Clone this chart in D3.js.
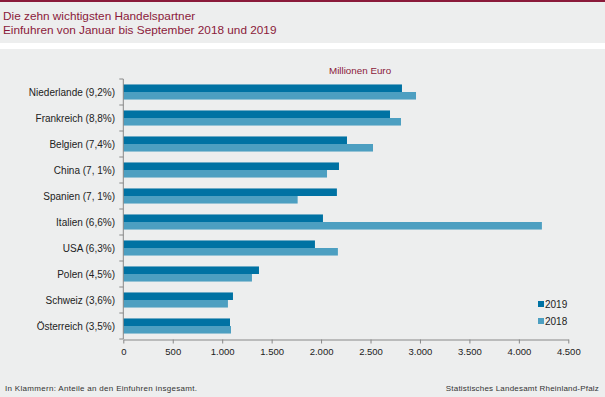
<!DOCTYPE html>
<html>
<head>
<meta charset="utf-8">
<script src="https://cdn.jsdelivr.net/npm/d3@7"></script>
<style>
body { margin: 0; background: #fff; }
svg text { font-family: "Liberation Sans", Arial, sans-serif; }
</style>
</head>
<body>
<div id="chart"></div>
<script>
var partners = ["Niederlande (9,2%)", "Frankreich (8,8%)", "Belgien (7,4%)", "China (7, 1%)", "Spanien (7, 1%)",
    "Italien (6,6%)", "USA (6,3%)", "Polen (4,5%)", "Schweiz (3,6%)", "Österreich (3,5%)"];
var values2019 = [2818, 2697, 2262, 2181, 2160, 2019, 1938, 1372, 1109, 1079];
var values2018 = [2960, 2808, 2525, 2060, 1763, 4233, 2170, 1301, 1058, 1089];
var years = ["2019", "2018"];
var xTicks = [0, 500, 1000, 1500, 2000, 2500, 3000, 3500, 4000, 4500];

var width = 605;
var height = 397;
var colors = { "2019": "#0072a3", "2018": "#4d9fc1" };
var titleColor = "#8b1a3a";

var svg = d3.select("#chart").append("svg").attr("width", width).attr("height", height);

// header and panel
svg.append("rect").attr("x", 0).attr("y", 0).attr("width", width).attr("height", 43).attr("fill", "#edeeee");
svg.append("rect").attr("x", 0).attr("y", 0).attr("width", width).attr("height", 2).attr("fill", titleColor);
svg.append("rect").attr("x", 0).attr("y", 49).attr("width", width).attr("height", height - 49).attr("fill", "#edeeee");

svg.append("text").attr("x", 3).attr("y", 20).attr("fill", titleColor).attr("font-size", 11.8)
    .text("Die zehn wichtigsten Handelspartner");
svg.append("text").attr("x", 3).attr("y", 34).attr("fill", titleColor).attr("font-size", 11.8)
    .text("Einfuhren von Januar  bis September 2018 und 2019");

var xScale = d3.scaleLinear().domain([0, 4500]).range([123.3, 568.3]);
var yScale = d3.scaleBand().domain(partners).range([79, 339]).paddingInner(0.42).paddingOuter(0.21);
var sub = d3.scaleBand().domain(years).range([0, yScale.bandwidth()]);

// bars
var data = partners.map(function (p, i) {
    return { name: p, "2019": values2019[i], "2018": values2018[i] };
});
var groups = svg.selectAll("g.partner").data(data).enter().append("g")
    .attr("class", "partner")
    .attr("transform", function (d) { return "translate(0," + yScale(d.name) + ")"; });
groups.selectAll("rect").data(function (d) {
        return years.map(function (y) { return { year: y, value: d[y] }; });
    }).enter().append("rect")
    .attr("x", xScale(0))
    .attr("y", function (d) { return sub(d.year); })
    .attr("height", sub.bandwidth())
    .attr("width", function (d) { return xScale(d.value) - xScale(0); })
    .attr("fill", function (d) { return colors[d.year]; });

// x axis
var xAxis = d3.axisBottom(xScale).tickValues(xTicks).tickSize(4).tickSizeOuter(0)
    .tickFormat(function (d) { return d3.format(",")(d).replace(/,/g, "."); });
var gx = svg.append("g").attr("transform", "translate(0,339.5)").call(xAxis);
gx.select(".domain").attr("stroke", "#888");
gx.selectAll(".tick line").attr("stroke", "#888");
gx.selectAll("text").attr("font-size", 9.5).attr("fill", "#222").attr("dy", "0.85em")
    .attr("font-family", "Liberation Sans, Arial, sans-serif");

// y axis with ticks between categories
var yEdges = d3.scaleLinear().domain([0, partners.length]).range([79, 339]);
var gy = svg.append("g").attr("transform", "translate(123.3,0)");
gy.append("line").attr("x1", 0).attr("x2", 0).attr("y1", yEdges(0)).attr("y2", yEdges(partners.length))
    .attr("stroke", "#888");
gy.selectAll("line.tk").data(d3.range(partners.length + 1)).enter().append("line")
    .attr("class", "tk").attr("x1", -4).attr("x2", 0)
    .attr("y1", function (d) { return yEdges(d); }).attr("y2", function (d) { return yEdges(d); })
    .attr("stroke", "#888");
svg.selectAll("text.cat").data(partners).enter().append("text")
    .attr("class", "cat")
    .attr("x", 115)
    .attr("y", function (d) { return yScale(d) + yScale.bandwidth() / 2; })
    .attr("dy", "0.35em")
    .attr("text-anchor", "end")
    .attr("font-size", 10)
    .attr("fill", "#222")
    .text(function (d) { return d; });

// unit label
svg.append("text").attr("x", 329).attr("y", 74).attr("font-size", 9.8).attr("fill", titleColor)
    .text("Millionen Euro");

// legend
var legend = svg.selectAll("g.legend").data(years).enter().append("g")
    .attr("class", "legend")
    .attr("transform", function (d, i) { return "translate(538," + (301 + i * 17) + ")"; });
legend.append("rect").attr("width", 6).attr("height", 6).attr("fill", function (d) { return colors[d]; });
legend.append("text").attr("x", 7).attr("y", 3).attr("dy", "0.35em").attr("font-size", 10).attr("fill", "#222")
    .text(function (d) { return d; });

// footer
svg.append("text").attr("x", 5).attr("y", 391).attr("font-size", 8).attr("fill", "#333")
    .attr("letter-spacing", 0.3)
    .text("In Klammern:  Anteile an den Einfuhren  insgesamt.");
svg.append("text").attr("x", 599).attr("y", 391).attr("font-size", 8).attr("fill", "#333")
    .attr("text-anchor", "end").attr("letter-spacing", 0.2)
    .text("Statistisches Landesamt  Rheinland-Pfalz");
</script>
</body>
</html>
